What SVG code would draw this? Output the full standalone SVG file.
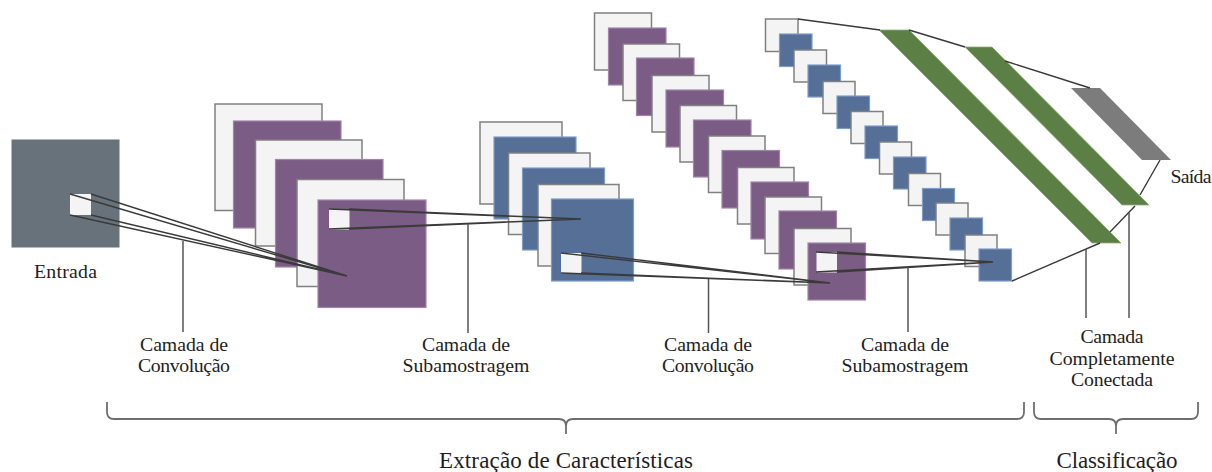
<svg xmlns="http://www.w3.org/2000/svg" width="1212" height="472" viewBox="0 0 1212 472">
<style>
text{font-family:"Liberation Serif","DejaVu Serif",serif;font-size:19.8px;fill:#1e1e1e;text-anchor:middle}
.big{font-size:23px}
.w{fill:#f4f4f4;stroke:#808080;stroke-width:1.5}
.p{fill:#7b5c85;stroke:#a283ad;stroke-width:1.2}
.b{fill:#556f96;stroke:#7c9cca;stroke-width:1.2}
.s{fill:#f4f4f4;stroke:none}
.g{fill:#5c7f46;stroke:#8ab074;stroke-width:.8}
.l{fill:none;stroke:#3a3a3a;stroke-width:1.4}
.v{fill:none;stroke:#555;stroke-width:1.5}
.br{fill:none;stroke:#6e6e6e;stroke-width:1.8}
</style>
<rect width="1212" height="472" fill="#fff"/>
<g id="entrada"><rect x="11.5" y="139.5" width="108" height="108" fill="#68727a"/><rect class="s" x="70" y="194" width="21" height="21"/></g>
<g id="conv1">
<rect class="w" x="215" y="104" width="107" height="106.500"/>
<rect class="p" x="233.500" y="121" width="107.500" height="107"/>
<rect class="w" x="255.500" y="140" width="106.500" height="106"/>
<rect class="p" x="275.500" y="159.500" width="107.500" height="107.500"/>
<rect class="w" x="297" y="179.500" width="107" height="107"/>
<rect class="p" x="318" y="200" width="108" height="107.500"/>
<rect class="s" x="329" y="209" width="20.500" height="20.500"/>
</g>
<g id="sub1">
<rect class="w" x="480" y="122" width="82" height="82"/>
<rect class="b" x="494" y="137" width="82" height="82"/>
<rect class="w" x="508.500" y="153" width="81.500" height="81.500"/>
<rect class="b" x="522.500" y="168" width="82" height="82"/>
<rect class="w" x="538" y="184.500" width="81" height="81.500"/>
<rect class="b" x="551.500" y="199" width="82" height="82"/>
<rect class="s" x="561" y="253" width="20.500" height="20.500"/>
</g>
<g id="conv2">
<rect class="w" x="594.500" y="13" width="57" height="57"/>
<rect class="p" x="608.500" y="28" width="57.500" height="57"/>
<rect class="w" x="623" y="44" width="56.500" height="56.500"/>
<rect class="p" x="636.500" y="58" width="57.500" height="57.500"/>
<rect class="w" x="652" y="75.500" width="57" height="56.500"/>
<rect class="p" x="666" y="90" width="57.500" height="57"/>
<rect class="w" x="680" y="105.500" width="56.500" height="56.500"/>
<rect class="p" x="693.500" y="120" width="57.500" height="57"/>
<rect class="w" x="708.500" y="136" width="56.500" height="56.500"/>
<rect class="p" x="722" y="150.500" width="57.500" height="57.500"/>
<rect class="w" x="737.500" y="167.500" width="56.500" height="56.500"/>
<rect class="p" x="751" y="182" width="57.500" height="57"/>
<rect class="w" x="765" y="197" width="56.500" height="56.500"/>
<rect class="p" x="779" y="211" width="57.500" height="58"/>
<rect class="w" x="794" y="228.500" width="57" height="56.500"/>
<rect class="p" x="808" y="243" width="57.500" height="57"/>
<rect class="s" x="816.500" y="252" width="20.500" height="20.500"/>
</g>
<g id="sub2">
<rect class="w" x="765.500" y="19" width="32.500" height="32.500"/>
<rect class="b" x="779.500" y="34" width="32.500" height="32.500"/>
<rect class="w" x="794" y="50" width="32.500" height="32"/>
<rect class="b" x="808" y="65" width="32.500" height="32"/>
<rect class="w" x="823" y="81.500" width="32" height="32"/>
<rect class="b" x="837" y="96" width="32.500" height="32.500"/>
<rect class="w" x="851" y="111.500" width="32" height="32"/>
<rect class="b" x="865" y="126" width="32.500" height="32.500"/>
<rect class="w" x="879.500" y="142" width="32" height="32"/>
<rect class="b" x="893.500" y="157" width="32.500" height="32"/>
<rect class="w" x="908.500" y="173.500" width="32" height="32"/>
<rect class="b" x="922.500" y="188.500" width="32" height="32"/>
<rect class="w" x="936" y="203" width="32" height="32"/>
<rect class="b" x="950" y="218" width="32.500" height="32"/>
<rect class="w" x="965" y="235" width="32" height="31.500"/>
<rect class="b" x="979" y="249" width="32.500" height="32"/>
</g>
<g id="fc1"><polygon class="g" points="879,30 909,30 1121,243 1092,243"/></g>
<g id="fc2"><polygon class="g" points="965,47 992,47 1149,205 1122,205"/></g>
<g id="saida"><polygon points="1071,88 1100,88 1171,160 1142,160" fill="#7c7c7c"/></g>
<g id="connectors">
<path class="l" d="M70 194L347 276M91 194L347 276M70 215L347 276M91 215L347 276"/>
<path class="l" d="M329 209L581 219M349 209L581 219M329 229L581 219M349 229L581 219"/>
<path class="l" d="M561 253L830 283M581 253L830 283M561 273L830 283M581 273L830 283"/>
<path class="l" d="M816 252L993 262M837 252L993 262M816 272L993 262M837 272L993 262"/>
<path class="l" d="M798 19L880 30M909 30L965 47M1005 61L1090 88M1160 160L1140 195M1135 206L1110 232M1100 243L1012 281"/>
<path class="v" d="M183 241V332M468 224V333M708.500 279V333M908 267V332M1086 249V318M1129 213V318"/>
<path class="br" d="M107 402V412Q107 419 114 419H559Q566 419 566 426V434M566 426Q566 419 573 419H1017Q1024 419 1024 412V402"/>
<path class="br" d="M1034 402V412Q1034 419 1041 419H1109Q1116 419 1116 426V434M1116 426Q1116 419 1123 419H1191Q1198 419 1198 412V402"/>
</g>
<g id="labels">
<text x="65.500" y="278" textLength="63">Entrada</text>
<text x="184" y="351" textLength="88">Camada de</text><text x="184" y="372" textLength="92">Convolução</text>
<text x="466" y="351" textLength="88">Camada de</text><text x="466" y="372" textLength="127">Subamostragem</text>
<text x="708" y="351" textLength="88">Camada de</text><text x="708" y="372" textLength="92">Convolução</text>
<text x="905" y="351" textLength="88">Camada de</text><text x="905" y="372" textLength="127">Subamostragem</text>
<text x="1112" y="343" textLength="63">Camada</text><text x="1112" y="365" textLength="125">Completamente</text><text x="1112" y="386" textLength="82">Conectada</text>
<text class="big" x="566" y="468" textLength="254">Extração de Características</text>
<text class="big" x="1117" y="468" textLength="121">Classificação</text>
<text x="1191" y="183" textLength="41">Saída</text>
</g>
</svg>
